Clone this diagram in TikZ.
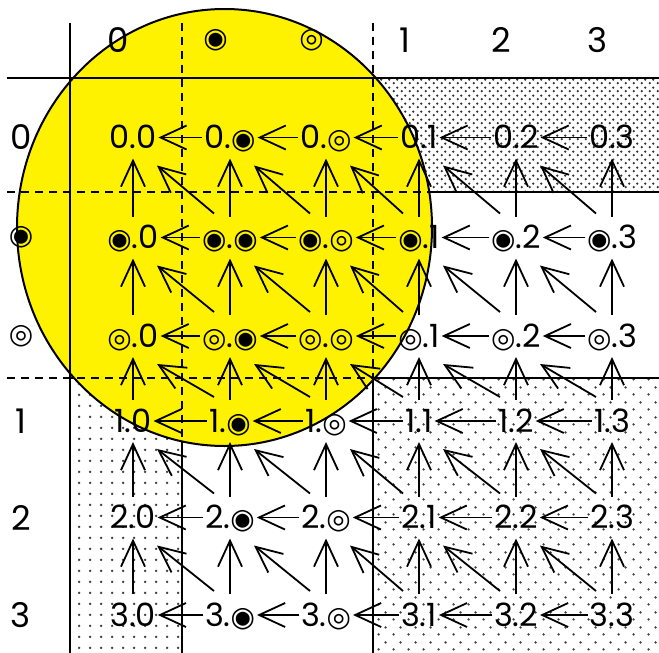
\documentclass[tikz,border=0pt]{standalone}
\usepackage{fontspec}
\setmainfont{Poppins}
\newfontfamily\symfont{DejaVu Sans}
\usepackage{tikz}
\usetikzlibrary{arrows.meta,patterns,positioning}

\newcommand{\dotsym}{{\symfont\fontsize{14}{14}\selectfont ◉}}
\newcommand{\ringsym}{{\symfont\fontsize{14}{14}\selectfont ◎}}
\newcommand{\lab}[1]{\ifcase#1 0\or\dotsym\or\ringsym\or 1\or 2\or 3\fi}

\pgfdeclarepatternformonly{finedots}{\pgfpointorigin}{\pgfqpoint{4pt}{4pt}}{\pgfqpoint{4pt}{4pt}}{%
  \pgfpathcircle{\pgfqpoint{1pt}{1pt}}{0.7pt}%
  \pgfpathcircle{\pgfqpoint{3pt}{3pt}}{0.7pt}%
  \pgfusepath{fill}}
\pgfdeclarepatternformonly{middots}{\pgfpointorigin}{\pgfqpoint{5.3pt}{5.3pt}}{\pgfqpoint{5.3pt}{5.3pt}}{%
  \pgfpathcircle{\pgfqpoint{2.65pt}{2.65pt}}{0.7pt}%
  \pgfusepath{fill}}
\pgfdeclarepatternformonly{sparsedots}{\pgfpointorigin}{\pgfqpoint{7.5pt}{7.5pt}}{\pgfqpoint{7.5pt}{7.5pt}}{%
  \pgfpathcircle{\pgfqpoint{1.9pt}{1.9pt}}{0.7pt}%
  \pgfpathcircle{\pgfqpoint{5.6pt}{5.6pt}}{0.7pt}%
  \pgfusepath{fill}}

\begin{document}
\begin{tikzpicture}[
    x=0.5pt, y=-0.5pt,
    line width=1pt,
    lbl/.style={inner xsep=0.5pt, inner ysep=4.5pt, text height=11pt, text depth=0pt,
                font=\fontsize{16}{18}\selectfont},
    hdr/.style={inner sep=0pt, font=\fontsize{17}{20}\selectfont},
    link/.style={-{Straight Barb[length=13pt,width=12pt]}, line width=0.9pt},
    sepline/.style={dash pattern=on 4pt off 3pt}
]
  \useasboundingbox (0,0) rectangle (659,653);

  % dotted blocks
  \draw[pattern=finedots, pattern color=black!80] (373,78) rectangle (665,192);
  \draw[pattern=middots, pattern color=black!75] (70,378) rectangle (182,660);
  \draw[pattern=sparsedots, pattern color=black!75] (373,378) rectangle (665,660);

  % yellow disc
  \draw[fill=yellow] (224.5,227.5) ellipse [x radius=207.5, y radius=218.5];

  % rules
  \draw (7,78) -- (665,78);
  \draw (70,22.7) -- (70,660);
  \draw[sepline] (7,192) -- (665,192);
  \draw[sepline] (7,378) -- (665,378);
  \draw[sepline] (182,22.7) -- (182,660);
  \draw[sepline] (373,22.7) -- (373,660);

  % headers
  \foreach \cx [count=\j from 0] in {133,230,326,419,516,612}
    \node[hdr] (h\j) at (\cx-14.5,40) {\lab{\j}};
  \foreach \ry [count=\i from 0] in {137.5,237.5,336,421,517.5,615}
    \node[hdr] (v\i) at (21,\ry) {\lab{\i}};

  % nodes
  \foreach \ry [count=\i from 0] in {137.5,237.5,336,421,517.5,615}
    \foreach \cx [count=\j from 0] in {133,230,326,419,516,612}
      \node[lbl] (n\i\j) at (\cx,\ry) {\lab{\i}.\lab{\j}};

  % edges
  \foreach \i in {0,...,5}
    \foreach \j/\jj in {1/0,2/1,3/2,4/3,5/4}
      \draw[link] (n\i\j) -- (n\i\jj);
  \foreach \i/\ii in {0/1,1/2,2/3,3/4,4/5}
    \foreach \j in {0,...,5}
      \draw[link] (n\ii\j) -- (n\i\j);
  \foreach \i/\ii in {0/1,1/2,2/3,3/4,4/5}
    \foreach \j/\jj in {0/1,1/2,2/3,3/4,4/5}
      \draw[link] ([shift={(-8pt,1.5pt)}]n\ii\jj.north) -- ([shift={(12pt,-3.5pt)}]n\i\j.south);
\end{tikzpicture}
\end{document}
